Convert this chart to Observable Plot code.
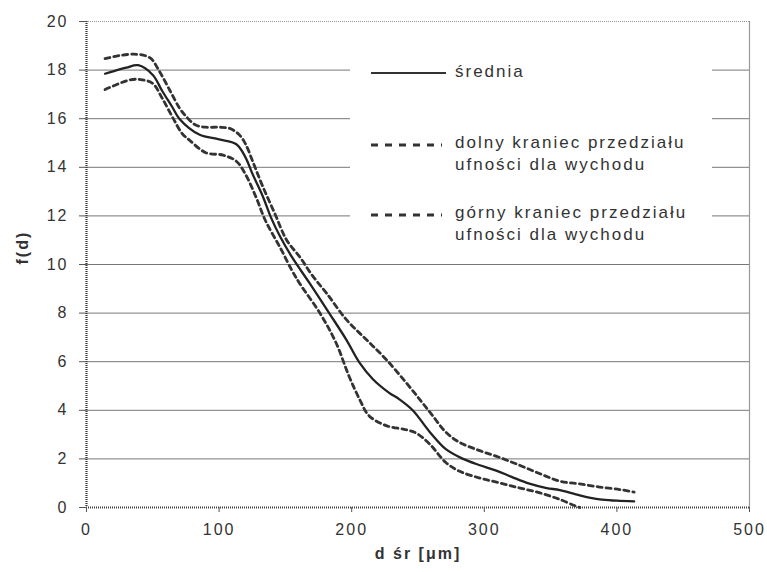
<!DOCTYPE html>
<html>
<head>
<meta charset="utf-8">
<script src="https://cdn.jsdelivr.net/npm/d3@7"></script>
<script src="https://cdn.jsdelivr.net/npm/@observablehq/plot@0.6"></script>
<style>
  body { margin: 0; background: white; }
  #wrap { position: relative; width: 767px; height: 572px; font-family: "Liberation Sans", Arial, sans-serif; }
  #legend { position: absolute; left: 350px; top: 45px; width: 362px; height: 205px; background: white; color: #333; font-size: 17px; letter-spacing: 2px; }
  #legend svg { position: absolute; }
  #legend .txt { position: absolute; left: 105px; line-height: 22px; white-space: nowrap; }
</style>
</head>
<body>
<div id="wrap"></div>
<script>
// ---- data ----
const meanX = [14, 20, 30, 39, 50, 57, 65, 70, 85, 100, 113, 120, 125, 133, 139, 146, 155, 168, 183, 196, 206, 216, 228, 236, 246, 259, 271, 284, 296, 309, 321, 334, 347, 357, 372, 387, 400, 413];
const meanY = [17.85, 17.95, 18.1, 18.2, 17.8, 17.15, 16.45, 16.0, 15.35, 15.15, 14.95, 14.4, 13.75, 12.8, 11.95, 11.15, 10.3, 9.25, 8.0, 6.9, 5.95, 5.28, 4.73, 4.45, 4.0, 3.1, 2.4, 2.0, 1.75, 1.52, 1.25, 0.98, 0.8, 0.72, 0.5, 0.33, 0.28, 0.25];

const upperX = [14, 25, 38, 48, 55, 63, 70, 75, 82, 90, 100, 108, 115, 120, 126, 133, 142, 151, 161, 170, 181, 196, 211, 226, 241, 252, 261, 271, 281, 296, 311, 327, 342, 357, 372, 387, 402, 413];
const upperY = [18.47, 18.6, 18.65, 18.5, 17.95, 17.15, 16.45, 16.1, 15.75, 15.65, 15.65, 15.6, 15.35, 14.95, 14.15, 13.2, 12.1, 11.0, 10.3, 9.57, 8.82, 7.73, 6.91, 6.09, 5.14, 4.4, 3.78, 3.1, 2.69, 2.35, 2.07, 1.73, 1.39, 1.08, 0.97, 0.84, 0.74, 0.63];

const lowerX = [14, 33, 42, 50, 57, 65, 72, 78, 90, 103, 113, 120, 128, 135, 146, 155, 161, 176, 188, 198, 206, 213, 226, 241, 249, 259, 271, 281, 296, 311, 327, 342, 357, 368, 372];
const lowerY = [17.2, 17.6, 17.6, 17.45, 16.85, 16.05, 15.4, 15.1, 14.6, 14.5, 14.25, 13.7, 12.75, 11.8, 10.7, 9.75, 9.2, 8.0, 6.8, 5.4, 4.45, 3.78, 3.37, 3.2, 3.05, 2.6, 1.85, 1.5, 1.22, 1.02, 0.8, 0.6, 0.33, 0.08, 0.0];

const xTicks = [0, 100, 200, 300, 400, 500];
const yTicks = [0, 2, 4, 6, 8, 10, 12, 14, 16, 18, 20];

const legendLabels = ["średnia", "dolny kraniec przedziału\nufności dla wychodu", "górny kraniec przedziału\nufności dla wychodu"];
const xLabel = "d śr [μm]";
const yLabel = "f(d)";

// ---- build tables ----
const mean = meanX.map((x, i) => ({x, y: meanY[i]}));
const upper = upperX.map((x, i) => ({x, y: upperY[i]}));
const lower = lowerX.map((x, i) => ({x, y: lowerY[i]}));

const chart = Plot.plot({
  width: 767,
  height: 572,
  marginLeft: 86,
  marginRight: 18,
  marginTop: 21,
  marginBottom: 65,
  style: {fontFamily: "'Liberation Sans', Arial, sans-serif", fontSize: "16px", color: "#333", background: "white", letterSpacing: "2px"},
  x: {domain: [0, 500], ticks: xTicks},
  y: {domain: [0, 20], ticks: yTicks},
  marks: [
    Plot.gridY(yTicks.filter(d => d > 0 && d < 20), {stroke: "#777", strokeOpacity: 1, strokeWidth: 1}),
    Plot.ruleY([20], {stroke: "#999", strokeWidth: 1.2, strokeDasharray: "1,1"}),
    Plot.ruleX([500], {stroke: "#999", strokeWidth: 1.2}),
    Plot.ruleX([0], {stroke: "#333", strokeWidth: 2.2, strokeDasharray: "1,1"}),
    Plot.ruleY([0], {stroke: "#444", strokeWidth: 2, strokeDasharray: "1,1"}),
    Plot.axisY({ticks: yTicks, tickSize: 7, tickPadding: 11, label: null, stroke: "#555"}),
    Plot.axisX({ticks: xTicks, tickSize: 5, tickPadding: 11, label: null, stroke: "#555"}),
    Plot.line(lower, {x: "x", y: "y", curve: "catmull-rom", stroke: "#333", strokeWidth: 2.8, strokeDasharray: "5,4"}),
    Plot.line(upper, {x: "x", y: "y", curve: "catmull-rom", stroke: "#333", strokeWidth: 2.8, strokeDasharray: "5,4"}),
    Plot.line(mean, {x: "x", y: "y", curve: "catmull-rom", stroke: "#222", strokeWidth: 2.3}),
    Plot.text([yLabel], {frameAnchor: "left", dx: -64, rotate: -90, fontWeight: "bold", fill: "#333", fontSize: 16}),
    Plot.text([xLabel], {frameAnchor: "bottom", dy: 51, fontWeight: "bold", fill: "#333", fontSize: 16, style: "letter-spacing:4px"})
  ]
});

const wrap = document.getElementById("wrap");
wrap.appendChild(chart);

// ---- legend (overlay box) ----
const legend = document.createElement("div");
legend.id = "legend";
const rows = [
  {y: 28, dash: null, textTop: 16},
  {y: 100, dash: "7,7", textTop: 87},
  {y: 170, dash: "7,7", textTop: 157}
];
rows.forEach((r, i) => {
  const s = document.createElementNS("http://www.w3.org/2000/svg", "svg");
  s.setAttribute("width", "80");
  s.setAttribute("height", "10");
  s.style.left = "20px";
  s.style.top = (r.y - 5) + "px";
  const l = document.createElementNS("http://www.w3.org/2000/svg", "line");
  l.setAttribute("x1", "1"); l.setAttribute("x2", i === 0 ? "76" : "72");
  l.setAttribute("y1", "5"); l.setAttribute("y2", "5");
  l.setAttribute("stroke", "#333");
  l.setAttribute("stroke-width", i === 0 ? "2" : "2.8");
  if (r.dash) l.setAttribute("stroke-dasharray", r.dash);
  s.appendChild(l);
  legend.appendChild(s);
  const t = document.createElement("div");
  t.className = "txt";
  t.style.top = r.textTop + "px";
  t.innerHTML = legendLabels[i].split("\n").join("<br>");
  legend.appendChild(t);
});
wrap.appendChild(legend);
</script>
</body>
</html>
